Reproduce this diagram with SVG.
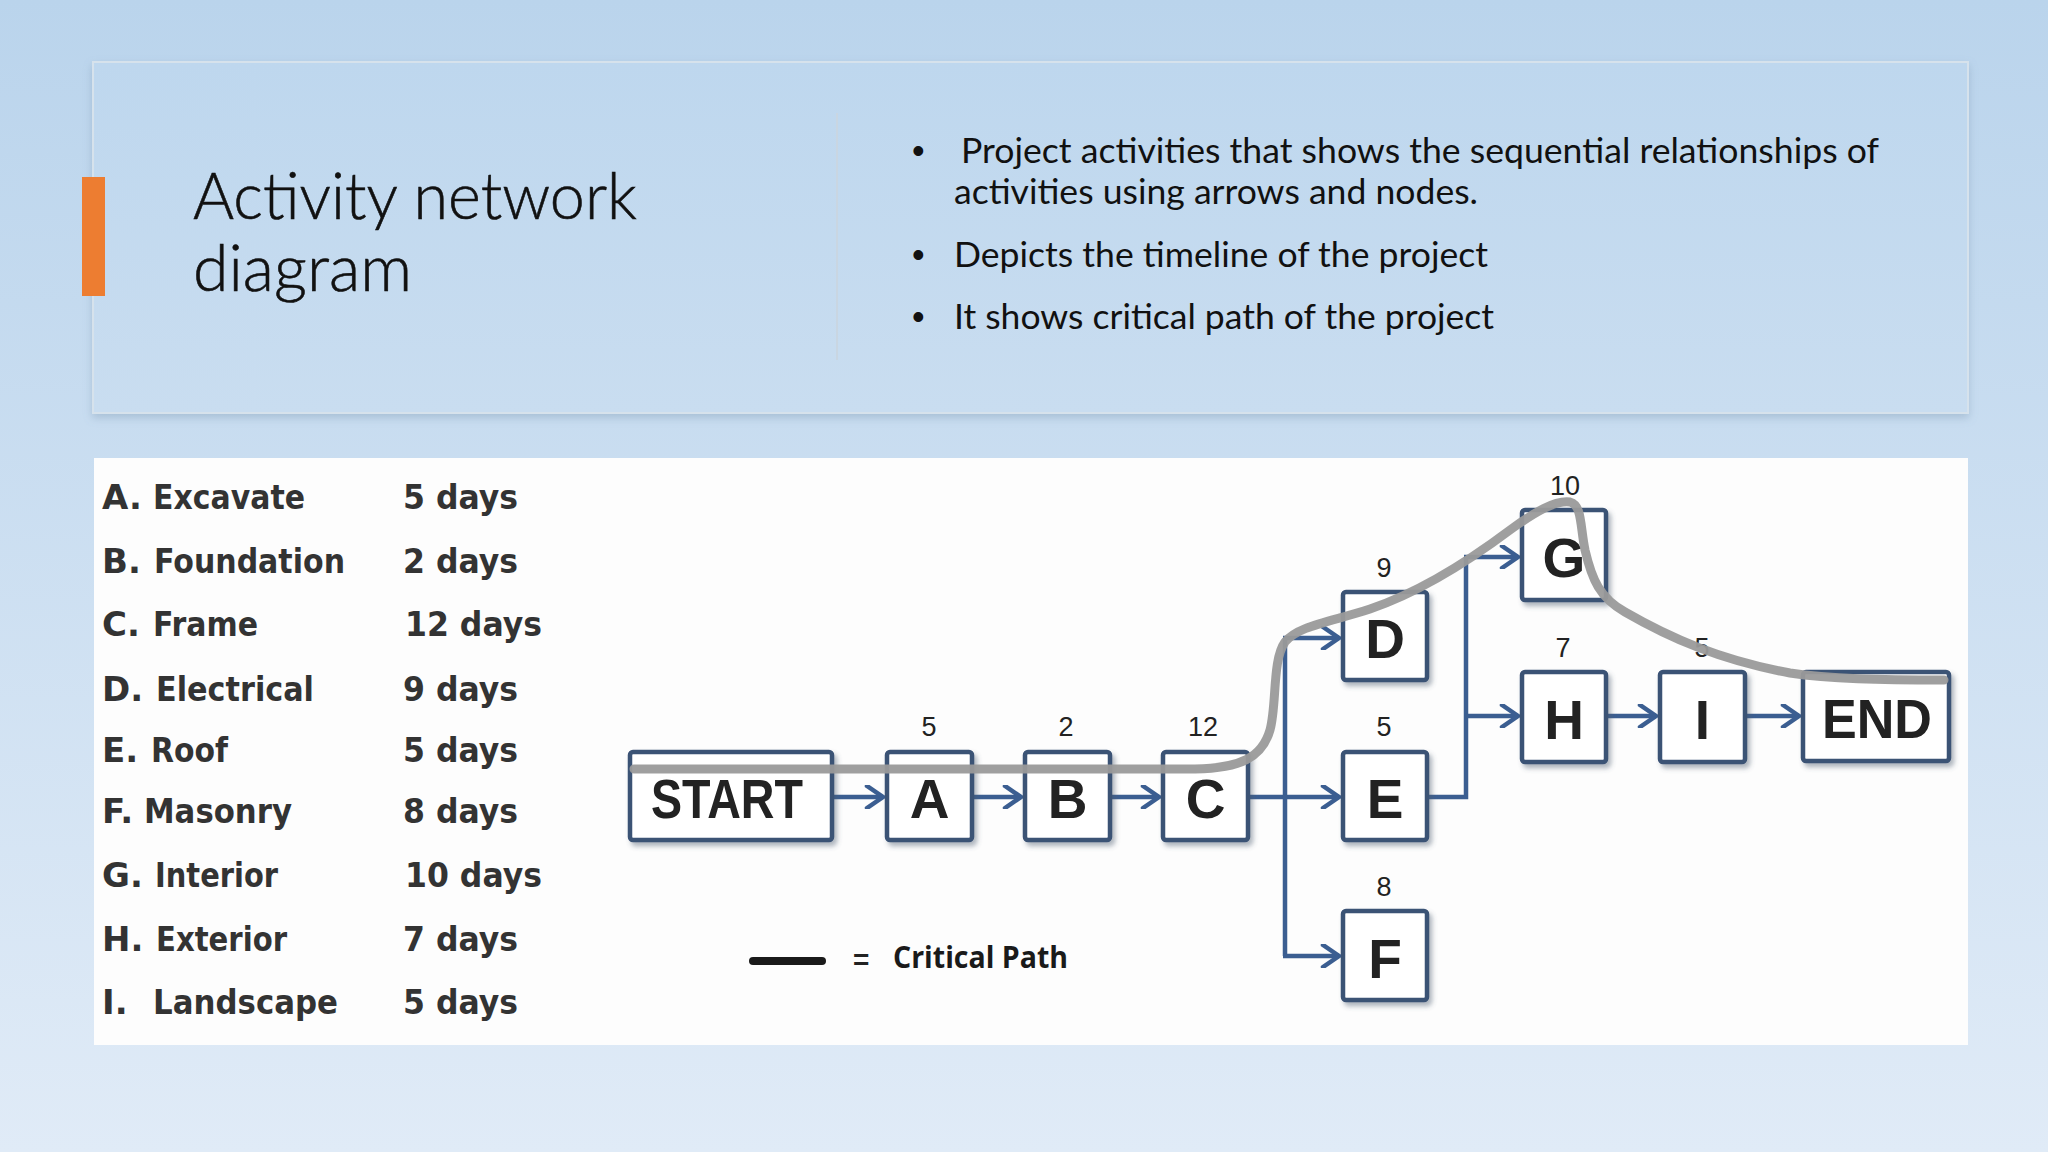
<svg xmlns="http://www.w3.org/2000/svg" width="2048" height="1152" viewBox="0 0 2048 1152">
  <defs>
    <linearGradient id="bg" x1="0" y1="0" x2="0" y2="1">
      <stop offset="0" stop-color="#bad4ec"/>
      <stop offset="1" stop-color="#e0ebf7"/>
    </linearGradient>
    <linearGradient id="panelFill" x1="0" y1="0" x2="0" y2="1">
      <stop offset="0" stop-color="#bed7ee"/>
      <stop offset="1" stop-color="#c9ddf0"/>
    </linearGradient>
    <filter id="panelShadow" x="-5%" y="-10%" width="110%" height="125%">
      <feDropShadow dx="0" dy="4" stdDeviation="4" flood-color="#6f8aa5" flood-opacity="0.35"/>
    </filter>
    <filter id="boxShadow" x="-20%" y="-20%" width="150%" height="150%">
      <feDropShadow dx="3" dy="4" stdDeviation="2.5" flood-color="#4a5a70" flood-opacity="0.45"/>
    </filter>
    <marker id="chev" viewBox="0 0 24 24" refX="20" refY="12" markerWidth="24" markerHeight="24" markerUnits="userSpaceOnUse" orient="auto">
      <polyline points="4,1 20,12 4,23" fill="none" stroke="#3b5e91" stroke-width="4.5" stroke-linejoin="miter" stroke-linecap="round"/>
    </marker>
    <style>
      .title { font-family: Lato, "Open Sans", sans-serif; font-weight: 300; font-size: 66px; fill: #111; stroke: #111; stroke-width: 0.6px; }
      .bullet { font-family: Lato, "Open Sans", sans-serif; font-size: 35px; fill: #111; }
      .dot { font-family: "Liberation Sans", Arial, sans-serif; font-size: 36px; fill: #111; }
      .tbl { font-family: "DejaVu Sans", Verdana, sans-serif; font-weight: bold; font-size: 34px; fill: #333; }
      .box { fill: #ffffff; stroke: #3a5275; stroke-width: 4.5; filter: url(#boxShadow); }
      .lbl { font-family: "Liberation Sans", Arial, sans-serif; font-weight: bold; font-size: 55px; fill: #222; text-anchor: middle; }
      .num { font-family: "Liberation Sans", Arial, sans-serif; font-size: 27px; fill: #222; text-anchor: middle; }
      .conn { fill: none; stroke: #3b5e91; stroke-width: 4.5; }
      .crit { fill: none; stroke: #9a9a9a; stroke-width: 9; stroke-linecap: round; opacity: 0.95; }
    </style>
  </defs>

  <!-- background -->
  <rect x="0" y="0" width="2048" height="1152" fill="url(#bg)"/>

  <!-- top panel -->
  <g id="header-panel">
    <rect x="93" y="62" width="1875" height="351" fill="url(#panelFill)" stroke="#d6e2ec" stroke-width="2" filter="url(#panelShadow)"/>
    <rect x="82" y="177" width="23" height="119" fill="#ed7d31"/>
    <line x1="837" y1="113" x2="837" y2="360" stroke="#c9d6e2" stroke-width="2"/>
    <text class="title" x="193" y="219" textLength="444" lengthAdjust="spacingAndGlyphs">Activity network</text>
    <text class="title" x="193" y="291" textLength="219" lengthAdjust="spacingAndGlyphs">diagram</text>
    <g id="bullets">
      <text class="dot" x="912" y="163">•</text>
      <text class="bullet" x="961" y="163" textLength="918" lengthAdjust="spacingAndGlyphs">Project activities that shows the sequential relationships of</text>
      <text class="bullet" x="954" y="204" textLength="524" lengthAdjust="spacingAndGlyphs">activities using arrows and nodes.</text>
      <text class="dot" x="912" y="267">•</text>
      <text class="bullet" x="954" y="267" textLength="534" lengthAdjust="spacingAndGlyphs">Depicts the timeline of the project</text>
      <text class="dot" x="912" y="329">•</text>
      <text class="bullet" x="954" y="329" textLength="540" lengthAdjust="spacingAndGlyphs">It shows critical path of the project</text>
    </g>
  </g>

  <!-- bottom white panel -->
  <rect x="94" y="458" width="1874" height="587" fill="#fdfdfd"/>

  <!-- activity table -->
  <g id="activity-table">
    <text class="tbl" x="102" y="509">A.</text><text class="tbl" x="153" y="509" textLength="152" lengthAdjust="spacingAndGlyphs">Excavate</text><text class="tbl" x="403" y="509" textLength="115" lengthAdjust="spacingAndGlyphs">5 days</text>
    <text class="tbl" x="102" y="573">B.</text><text class="tbl" x="154" y="573" textLength="191" lengthAdjust="spacingAndGlyphs">Foundation</text><text class="tbl" x="403" y="573" textLength="115" lengthAdjust="spacingAndGlyphs">2 days</text>
    <text class="tbl" x="102" y="636">C.</text><text class="tbl" x="153" y="636" textLength="105" lengthAdjust="spacingAndGlyphs">Frame</text><text class="tbl" x="405" y="636" textLength="137" lengthAdjust="spacingAndGlyphs">12 days</text>
    <text class="tbl" x="102" y="701">D.</text><text class="tbl" x="156" y="701" textLength="158" lengthAdjust="spacingAndGlyphs">Electrical</text><text class="tbl" x="403" y="701" textLength="115" lengthAdjust="spacingAndGlyphs">9 days</text>
    <text class="tbl" x="102" y="762">E.</text><text class="tbl" x="151" y="762" textLength="77" lengthAdjust="spacingAndGlyphs">Roof</text><text class="tbl" x="403" y="762" textLength="115" lengthAdjust="spacingAndGlyphs">5 days</text>
    <text class="tbl" x="102" y="823">F.</text><text class="tbl" x="144" y="823" textLength="148" lengthAdjust="spacingAndGlyphs">Masonry</text><text class="tbl" x="403" y="823" textLength="115" lengthAdjust="spacingAndGlyphs">8 days</text>
    <text class="tbl" x="102" y="887">G.</text><text class="tbl" x="155" y="887" textLength="123" lengthAdjust="spacingAndGlyphs">Interior</text><text class="tbl" x="405" y="887" textLength="137" lengthAdjust="spacingAndGlyphs">10 days</text>
    <text class="tbl" x="102" y="951">H.</text><text class="tbl" x="156" y="951" textLength="131" lengthAdjust="spacingAndGlyphs">Exterior</text><text class="tbl" x="403" y="951" textLength="115" lengthAdjust="spacingAndGlyphs">7 days</text>
    <text class="tbl" x="102" y="1014">I.</text><text class="tbl" x="153" y="1014" textLength="185" lengthAdjust="spacingAndGlyphs">Landscape</text><text class="tbl" x="403" y="1014" textLength="115" lengthAdjust="spacingAndGlyphs">5 days</text>
  </g>

  <!-- connectors -->
  <g id="connectors">
    <line class="conn" x1="832" y1="797" x2="883" y2="797" marker-end="url(#chev)"/>
    <line class="conn" x1="972" y1="797" x2="1021" y2="797" marker-end="url(#chev)"/>
    <line class="conn" x1="1110" y1="797" x2="1159" y2="797" marker-end="url(#chev)"/>
    <line class="conn" x1="1248" y1="797" x2="1339" y2="797" marker-end="url(#chev)"/>
    <line class="conn" x1="1285" y1="638" x2="1285" y2="956"/>
    <polyline class="conn" points="1283,638 1339,638" marker-end="url(#chev)"/>
    <polyline class="conn" points="1283,956 1339,956" marker-end="url(#chev)"/>
    <polyline class="conn" points="1427,797 1466,797 1466,557"/>
    <polyline class="conn" points="1464,557 1518,557" marker-end="url(#chev)"/>
    <polyline class="conn" points="1466,716 1518,716" marker-end="url(#chev)"/>
    <line class="conn" x1="1606" y1="716" x2="1656" y2="716" marker-end="url(#chev)"/>
    <line class="conn" x1="1745" y1="716" x2="1799" y2="716" marker-end="url(#chev)"/>
  </g>

  <!-- nodes -->
  <g id="node-start"><rect class="box" x="630" y="752" width="202" height="88" rx="3"/><text class="lbl" x="727" y="818" textLength="152" lengthAdjust="spacingAndGlyphs">START</text></g>
  <g id="node-a"><rect class="box" x="887" y="752" width="85" height="88" rx="3"/><text class="lbl" x="929.5" y="818">A</text><text class="num" x="929" y="736">5</text></g>
  <g id="node-b"><rect class="box" x="1025" y="752" width="85" height="88" rx="3"/><text class="lbl" x="1067.5" y="818">B</text><text class="num" x="1066" y="736">2</text></g>
  <g id="node-c"><rect class="box" x="1163" y="752" width="85" height="88" rx="3"/><text class="lbl" x="1205.5" y="818">C</text><text class="num" x="1203" y="736">12</text></g>
  <g id="node-d"><rect class="box" x="1343" y="592" width="84" height="88" rx="3"/><text class="lbl" x="1385" y="658">D</text><text class="num" x="1384" y="577">9</text></g>
  <g id="node-e"><rect class="box" x="1343" y="752" width="84" height="88" rx="3"/><text class="lbl" x="1385" y="818">E</text><text class="num" x="1384" y="736">5</text></g>
  <g id="node-f"><rect class="box" x="1343" y="911" width="84" height="89" rx="3"/><text class="lbl" x="1385" y="978">F</text><text class="num" x="1384" y="896">8</text></g>
  <g id="node-g"><rect class="box" x="1522" y="510" width="84" height="90" rx="3"/><text class="lbl" x="1564" y="577">G</text><text class="num" x="1565" y="495">10</text></g>
  <g id="node-h"><rect class="box" x="1522" y="672" width="84" height="90" rx="3"/><text class="lbl" x="1564" y="739">H</text><text class="num" x="1563" y="657">7</text></g>
  <g id="node-i"><rect class="box" x="1660" y="672" width="85" height="90" rx="3"/><text class="lbl" x="1702.5" y="739">I</text><text class="num" x="1702" y="657">5</text></g>
  <g id="node-end"><rect class="box" x="1803" y="672" width="146" height="89" rx="3"/><text class="lbl" x="1877" y="738" textLength="110" lengthAdjust="spacingAndGlyphs">END</text></g>

  <!-- critical path -->
  <path id="critical-path" class="crit" d="M 634 769 L 1195 769 C 1240 768, 1262 758, 1270 730 C 1277 705, 1272 660, 1285 642 C 1298 626, 1330 622, 1370 609 C 1420 592, 1470 560, 1510 530 C 1535 512, 1555 500, 1570 502 C 1582 505, 1580 525, 1585 550 C 1592 580, 1600 598, 1625 612 C 1670 638, 1720 660, 1790 673 C 1830 679, 1880 680, 1944 680"/>

  <!-- legend -->
  <g id="legend">
    <line x1="753" y1="961" x2="822" y2="961" stroke="#1a1a1a" stroke-width="8" stroke-linecap="round"/>
    <text x="853" y="969" font-family="'Liberation Sans', Arial, sans-serif" font-weight="bold" font-size="28" fill="#222">=</text>
    <text x="893" y="968" font-family="'Open Sans', 'Liberation Sans', sans-serif" font-weight="bold" font-size="30" fill="#1a1a1a" textLength="175" lengthAdjust="spacingAndGlyphs">Critical Path</text>
  </g>
</svg>
